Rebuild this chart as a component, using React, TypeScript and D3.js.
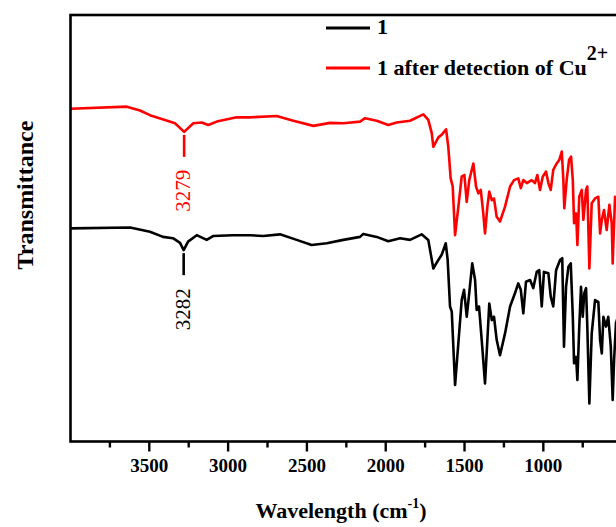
import React from 'react';
import * as d3 from 'd3';

const W = 616;
const H = 527;

// Spectrum "1" (black)
const blackWavenumber = [
  4000, 3622, 3496, 3413, 3350, 3305, 3282, 3254, 3199, 3136, 3096, 2969, 2861, 2777, 2671, 2565, 2470, 2374, 2269, 2163,
  2142, 2057, 1984, 1909, 1846, 1772, 1730, 1698, 1666, 1645, 1619, 1607, 1592, 1581, 1560, 1539, 1518, 1503, 1486, 1470,
  1451, 1433, 1423, 1408, 1391, 1370, 1355, 1343, 1327, 1313, 1296, 1275, 1243, 1211, 1180, 1159, 1143, 1127, 1110, 1084,
  1064, 1042, 1026, 1010, 996, 968, 953, 937, 919, 894, 880, 869, 856, 841, 826, 813, 805, 792, 784, 772,
  761, 750, 740, 729, 721, 708, 693, 672, 651, 640, 629, 619, 602, 588, 572, 560, 551, 539, 520,
];
const blackTransmittance = [
  49.8, 50.0, 49.0, 47.8, 47.5, 46.4, 44.7, 46.7, 48.2, 47.1, 48.0, 48.2, 48.2, 48.0, 48.4, 47.1, 45.9, 46.3, 47.1, 47.8,
  48.5, 47.8, 46.8, 47.5, 47.1, 48.4, 47.1, 40.4, 42.4, 43.6, 46.3, 42.4, 31.5, 30.3, 13.1, 23.0, 33.0, 35.4, 29.1, 34.7,
  41.6, 37.7, 30.7, 31.5, 23.7, 13.5, 23.7, 32.2, 28.3, 29.1, 23.7, 20.1, 25.2, 31.5, 34.6, 36.9, 35.4, 29.9, 37.3, 37.7,
  35.8, 39.6, 40.0, 31.5, 39.6, 39.3, 33.8, 31.5, 40.0, 42.4, 42.8, 22.1, 36.1, 40.8, 41.6, 29.1, 18.2, 19.7, 14.3, 26.8,
  36.1, 29.1, 34.6, 35.8, 26.8, 8.8, 25.2, 33.0, 32.6, 23.7, 20.5, 29.1, 26.8, 29.1, 22.1, 9.6, 19.0, 27.6, 30.0,
];

// Spectrum "1 after detection of Cu2+" (red)
const redWavenumber = [
  4000, 3643, 3559, 3496, 3411, 3337, 3279, 3221, 3168, 3126, 3072, 2946, 2861, 2692, 2586, 2459, 2353, 2269, 2163, 2131,
  2057, 1984, 1930, 1846, 1761, 1730, 1708, 1698, 1692, 1666, 1645, 1617, 1603, 1588, 1575, 1560, 1539, 1518, 1501, 1486,
  1470, 1444, 1427, 1412, 1397, 1381, 1370, 1355, 1343, 1327, 1313, 1296, 1275, 1243, 1211, 1186, 1159, 1143, 1127, 1105,
  1074, 1053, 1038, 1021, 1004, 983, 968, 953, 937, 915, 899, 883, 873, 867, 852, 837, 824, 813, 805, 792,
  784, 772, 756, 746, 729, 721, 708, 693, 672, 651, 640, 629, 615, 598, 581, 566, 560, 545, 520,
];
const redTransmittance = [
  77.8, 78.3, 77.4, 76.3, 75.3, 74.4, 72.4, 74.4, 74.6, 74.0, 74.8, 75.8, 75.8, 76.1, 75.0, 73.8, 74.5, 74.4, 74.8, 75.6,
  75.0, 74.0, 74.6, 75.0, 76.5, 75.2, 72.1, 68.9, 69.3, 71.1, 71.7, 73.0, 68.9, 61.5, 59.6, 48.2, 54.9, 61.9, 62.3, 56.0,
  61.1, 65.0, 59.6, 58.0, 58.8, 53.3, 48.6, 54.9, 58.4, 56.4, 56.8, 52.5, 51.4, 54.9, 59.6, 61.1, 61.5, 59.2, 61.1, 60.4,
  61.1, 60.4, 62.3, 58.8, 61.9, 63.1, 60.4, 58.8, 63.5, 65.0, 65.8, 67.8, 61.1, 54.5, 61.1, 65.8, 66.6, 61.1, 51.0, 53.3,
  45.9, 57.2, 58.8, 51.8, 58.8, 59.6, 40.4, 55.7, 56.8, 57.2, 48.6, 51.8, 54.1, 49.4, 55.3, 51.0, 41.6, 57.2, 55.0,
];

const majorTicks = [3500, 3000, 2500, 2000, 1500, 1000];
const majorTickLabels = ['3500', '3000', '2500', '2000', '1500', '1000'];
const minorTicks = [3750, 3250, 2750, 2250, 1750, 1250, 750];

const peakPositions = [3279, 3282];
const peakLabels = ['3279', '3282'];

const seriesNames = ['1', '1 after detection of Cu'];
const seriesColors = ['#000000', '#ff0000'];

const FONT = '"Liberation Serif", "Times New Roman", serif';

export default function App() {
  const x = d3.scaleLinear().domain([4000, 400]).range([70.5, 637.9]);
  const y = d3.scaleLinear().domain([0, 100]).range([441, 14]);

  const plotLeft = x(4000);
  const plotRight = x(400);
  const plotTop = 15;
  const plotBottom = 441.5;

  const line = d3
    .line<[number, number]>()
    .x((d) => x(d[0]))
    .y((d) => y(d[1]));

  const blackData: [number, number][] = blackWavenumber.map((v, i) => [v, blackTransmittance[i]]);
  const redData: [number, number][] = redWavenumber.map((v, i) => [v, redTransmittance[i]]);

  const peakInfo = [
    { pos: peakPositions[0], label: peakLabels[0], color: '#ff0000', t: redTransmittance[redWavenumber.indexOf(peakPositions[0])] },
    { pos: peakPositions[1], label: peakLabels[1], color: '#000000', t: blackTransmittance[blackWavenumber.indexOf(peakPositions[1])] },
  ];

  return (
    <svg
      width={W}
      height={H}
      style={{ position: 'absolute', left: 0, top: 0, background: '#fff' }}
      fontFamily={FONT}
    >
      <defs>
        <clipPath id="plotclip">
          <rect x={plotLeft} y={plotTop} width={plotRight - plotLeft} height={plotBottom - plotTop} />
        </clipPath>
      </defs>
      <rect x={0} y={0} width={W} height={H} fill="#fff" />

      <g clipPath="url(#plotclip)">
        <path d={line(redData) || ''} fill="none" stroke={seriesColors[1]} strokeWidth={2.6} strokeLinejoin="round" />
        <path d={line(blackData) || ''} fill="none" stroke={seriesColors[0]} strokeWidth={2.6} strokeLinejoin="round" />
      </g>

      {/* frame */}
      <rect
        x={plotLeft}
        y={plotTop}
        width={plotRight - plotLeft}
        height={plotBottom - plotTop}
        fill="none"
        stroke="#000"
        strokeWidth={2.6}
      />

      {/* bottom ticks */}
      {majorTicks.map((t) => (
        <line key={'M' + t} x1={x(t)} x2={x(t)} y1={plotBottom} y2={plotBottom + 10} stroke="#000" strokeWidth={2.4} />
      ))}
      {minorTicks.map((t) => (
        <line key={'m' + t} x1={x(t)} x2={x(t)} y1={plotBottom} y2={plotBottom + 6} stroke="#000" strokeWidth={2.4} />
      ))}
      {majorTicks.map((t, i) => (
        <text key={'L' + t} x={x(t)} y={472} textAnchor="middle" fontSize={19} fontWeight="bold" fill="#000">
          {majorTickLabels[i]}
        </text>
      ))}

      {/* axis titles */}
      <text x={341} y={518} textAnchor="middle" fontSize={22} fontWeight="bold" fill="#000">
        Wavelength (cm<tspan fontSize={14} dy={-10}>-1</tspan>
        <tspan dy={10}>)</tspan>
      </text>
      <text
        transform={`translate(33,195) rotate(-90)`}
        textAnchor="middle"
        fontSize={24}
        fontWeight="bold"
        fill="#000"
      >
        Transmittance
      </text>

      {/* peak annotations */}
      {peakInfo.map((p) => {
        const px = x(p.pos);
        const py = y(p.t);
        const lineEnd = py + 25;
        return (
          <g key={p.label}>
            <line x1={px} x2={px} y1={py + 3} y2={lineEnd} stroke={p.color} strokeWidth={2.6} />
            <text
              transform={`translate(${px + 6},${lineEnd + 13}) rotate(-90)`}
              textAnchor="end"
              fontSize={21}
              fill={p.color}
            >
              {p.label}
            </text>
          </g>
        );
      })}

      {/* legend */}
      <line x1={326} x2={370} y1={28} y2={28} stroke={seriesColors[0]} strokeWidth={2.8} />
      <text x={377} y={33.5} fontSize={22} fontWeight="bold" fill="#000">
        {seriesNames[0]}
      </text>
      <line x1={326} x2={370} y1={68} y2={68} stroke={seriesColors[1]} strokeWidth={2.8} />
      <text x={377} y={75} fontSize={22} fontWeight="bold" fill="#000">
        {seriesNames[1]}
        <tspan fontSize={20} dy={-15}>2+</tspan>
      </text>
    </svg>
  );
}
